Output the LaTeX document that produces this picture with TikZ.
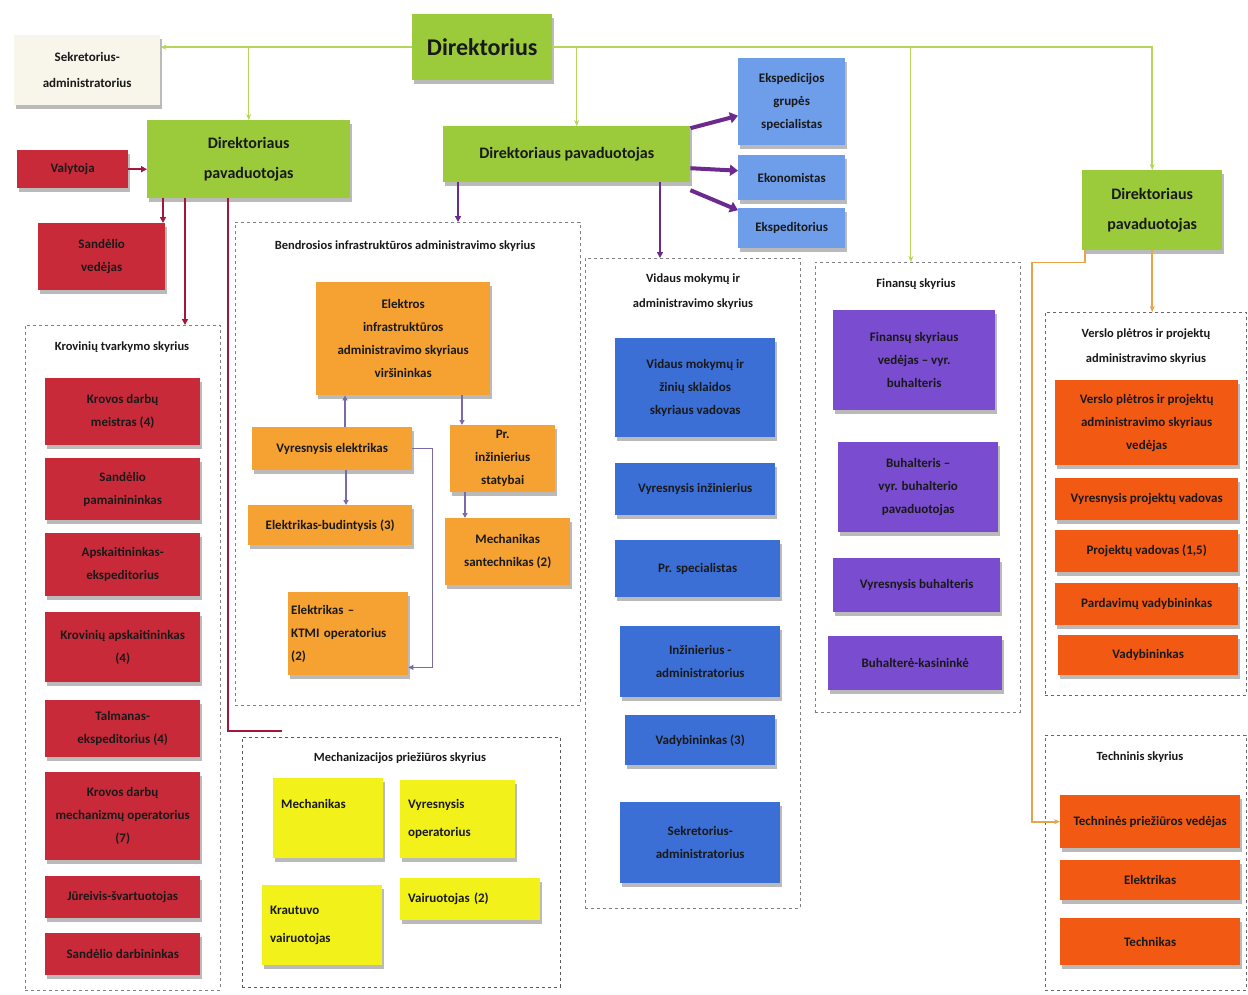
\documentclass[tikz,border=0pt]{standalone}
\usepackage{fontspec}
\setmainfont{Carlito}
\usetikzlibrary{shadows,arrows.meta,calc}
\definecolor{cgreen}{HTML}{9BCB3B}
\definecolor{cgline}{HTML}{B5D65A}
\definecolor{cred}{HTML}{C92A3A}
\definecolor{crline}{HTML}{A3183A}
\definecolor{corange}{HTML}{F6A232}
\definecolor{cblue}{HTML}{3B6FD6}
\definecolor{clblue}{HTML}{6E9EEA}
\definecolor{cpurple}{HTML}{7A4CCF}
\definecolor{cpline}{HTML}{6A2A8E}
\definecolor{cplthin}{HTML}{7A6AA8}
\definecolor{cxor}{HTML}{F25A14}
\definecolor{coline}{HTML}{E6A54A}
\definecolor{cyellow}{HTML}{F2F21A}
\definecolor{ccream}{HTML}{F8F6EA}
\begin{document}
\begin{tikzpicture}[x=1pt,y=-1pt,
  box/.style={anchor=north west, align=center, inner sep=2pt, font=\bfseries\fontsize{13}{23}\selectfont, text=black!90,
    drop shadow={shadow xshift=2pt, shadow yshift=-4pt, fill=black!45, opacity=0.6}},
  gbox/.style={box, fill=cgreen, font=\bfseries\fontsize{16}{30}\selectfont},
  rbox/.style={box, fill=cred},
  obox/.style={box, fill=corange},
  bbox/.style={box, fill=cblue},
  lbbox/.style={box, fill=clblue},
  pbox/.style={box, fill=cpurple},
  xbox/.style={box, fill=cxor},
  ybox/.style={box, fill=cyellow, align=left, inner xsep=8pt, font=\bfseries\fontsize{13}{28}\selectfont},
  grp/.style={anchor=north west, draw=black!50, dashed, dash pattern=on 3pt off 3pt, line width=0.9pt, fill=white, inner sep=0pt},
  gtitle/.style={font=\bfseries\fontsize{12.5}{25}\selectfont, align=center, text=black!90},
  gln/.style={draw=cgline, line width=1.6pt, -{Stealth[length=6pt,width=5pt]}},
  rln/.style={draw=crline, line width=2.4pt, -{Triangle[length=6pt,width=6pt]}},
  pln/.style={draw=cpline, line width=2pt, -{Triangle[length=6pt,width=6pt]}},
  pthick/.style={draw=cpline, line width=4pt, -{Triangle[length=8pt,width=11pt]}},
  plt/.style={draw=cplthin, line width=1.2pt},
  oln/.style={draw=coline, line width=1.8pt, -{Stealth[length=6pt,width=5pt]}}
]
\useasboundingbox (0,0) rectangle (1248,994);
\fill[white] (0,0) rectangle (1248,994);

% ---------- groups (dashed) ----------
\node[grp, minimum width=195pt, minimum height=665pt] (gK) at (25,325) {};
\node[grp, minimum width=345pt, minimum height=483pt] (gI) at (235,222) {};
\node[grp, minimum width=215pt, minimum height=650pt] (gV) at (585,258) {};
\node[grp, minimum width=205pt, minimum height=450pt] (gF) at (815,262) {};
\node[grp, draw=black!60, minimum width=201pt, minimum height=383pt] (gP) at (1045,312) {};
\node[grp, draw=black!60, minimum width=201pt, minimum height=255pt] (gT) at (1045,735) {};
\node[grp, draw=black!65, minimum width=318pt, minimum height=250pt] (gM) at (242,737) {};

\node[gtitle] (gKt) at (122,347) {Krovinių tvarkymo skyrius};
\node[gtitle] (gIt) at (405,246) {Bendrosios infrastruktūros administravimo skyrius};
\node[gtitle] (gVt) at (693,292) {Vidaus mokymų ir\\administravimo skyrius};
\node[gtitle] (gFt) at (916,284) {Finansų skyrius};
\node[gtitle] (gPt) at (1146,347) {Verslo plėtros ir projektų\\administravimo skyrius};
\node[gtitle] (gTt) at (1140,757) {Techninis skyrius};
\node[gtitle] (gMt) at (400,758) {Mechanizacijos priežiūros skyrius};

% ---------- top level ----------
\node[gbox, minimum width=140pt, minimum height=66pt, font=\bfseries\fontsize{24}{28}\selectfont] (dir) at (412,14) {Direktorius};
\node[box, fill=ccream, minimum width=146pt, minimum height=70pt, font=\bfseries\fontsize{13}{26}\selectfont] (sek) at (14,35) {Sekretorius-\\administratorius};
\node[gbox, minimum width=203pt, minimum height=78pt] (dpL) at (147,120) {Direktoriaus\\pavaduotojas};
\node[gbox, minimum width=247pt, minimum height=56pt] (dpM) at (443,126) {Direktoriaus pavaduotojas};
\node[gbox, minimum width=140pt, minimum height=80pt] (dpR) at (1082,170) {Direktoriaus\\pavaduotojas};

\node[lbbox, minimum width=107pt, minimum height=87pt] (lb1) at (738,58) {Ekspedicijos\\grupės\\specialistas};
\node[lbbox, minimum width=107pt, minimum height=45pt] (lb2) at (738,155) {Ekonomistas};
\node[lbbox, minimum width=107pt, minimum height=40pt] (lb3) at (738,208) {Ekspeditorius};

\node[rbox, minimum width=111pt, minimum height=38pt] (val) at (17,150) {Valytoja};
\node[rbox, minimum width=127pt, minimum height=67pt] (sand) at (38,223) {Sandėlio\\vedėjas};

% ---------- Krovinių tvarkymo skyrius ----------
\node[rbox, minimum width=155pt, minimum height=67pt] (k1) at (45,378) {Krovos darbų\\meistras (4)};
\node[rbox, minimum width=155pt, minimum height=62pt] (k2) at (45,458) {Sandėlio\\pamainininkas};
\node[rbox, minimum width=155pt, minimum height=63pt] (k3) at (45,533) {Apskaitininkas-\\ekspeditorius};
\node[rbox, minimum width=155pt, minimum height=70pt] (k4) at (45,612) {Krovinių apskaitininkas\\(4)};
\node[rbox, minimum width=155pt, minimum height=57pt] (k5) at (45,700) {Talmanas-\\ekspeditorius (4)};
\node[rbox, minimum width=155pt, minimum height=88pt] (k6) at (45,772) {Krovos darbų\\mechanizmų operatorius\\(7)};
\node[rbox, minimum width=155pt, minimum height=42pt] (k7) at (45,876) {Jūreivis-švartuotojas};
\node[rbox, minimum width=155pt, minimum height=42pt] (k8) at (45,933) {Sandėlio darbininkas};

% ---------- Bendrosios infrastruktūros ----------
\node[obox, minimum width=174pt, minimum height=113pt] (o1) at (316,282) {Elektros\\infrastruktūros\\administravimo skyriaus\\viršininkas};
\node[obox, minimum width=160pt, minimum height=43pt] (o2) at (252,427) {Vyresnysis elektrikas};
\node[obox, minimum width=105pt, minimum height=67pt] (o3) at (450,425) {Pr.\\inžinierius\\statybai};
\node[obox, minimum width=164pt, minimum height=40pt] (o4) at (248,505) {Elektrikas-budintysis (3)};
\node[obox, minimum width=125pt, minimum height=67pt] (o5) at (445,518) {Mechanikas\\santechnikas (2)};
\node[obox, minimum width=120pt, minimum height=83pt, align=left, text width=114pt] (o6) at (288,592) {Elektrikas –\\KTMI operatorius\\(2)};

% ---------- Vidaus mokymų ----------
\node[bbox, minimum width=160pt, minimum height=99pt] (b1) at (615,338) {Vidaus mokymų ir\\žinių sklaidos\\skyriaus vadovas};
\node[bbox, minimum width=160pt, minimum height=52pt] (b2) at (615,463) {Vyresnysis inžinierius};
\node[bbox, minimum width=165pt, minimum height=57pt] (b3) at (615,540) {Pr. specialistas};
\node[bbox, minimum width=160pt, minimum height=71pt] (b4) at (620,626) {Inžinierius -\\administratorius};
\node[bbox, minimum width=150pt, minimum height=50pt] (b5) at (625,715) {Vadybininkas (3)};
\node[bbox, minimum width=160pt, minimum height=81pt] (b6) at (620,802) {Sekretorius-\\administratorius};

% ---------- Finansų skyrius ----------
\node[pbox, minimum width=162pt, minimum height=100pt] (p1) at (833,310) {Finansų skyriaus\\vedėjas – vyr.\\buhalteris};
\node[pbox, minimum width=160pt, minimum height=90pt] (p2) at (838,442) {Buhalteris –\\vyr. buhalterio\\pavaduotojas};
\node[pbox, minimum width=167pt, minimum height=54pt] (p3) at (833,558) {Vyresnysis buhalteris};
\node[pbox, minimum width=174pt, minimum height=54pt] (p4) at (828,636) {Buhalterė-kasininkė};

% ---------- Verslo plėtros ----------
\node[xbox, minimum width=183pt, minimum height=85pt] (x1) at (1055,380) {Verslo plėtros ir projektų\\administravimo skyriaus\\vedėjas};
\node[xbox, minimum width=183pt, minimum height=42pt] (x2) at (1055,478) {Vyresnysis projektų vadovas};
\node[xbox, minimum width=183pt, minimum height=42pt] (x3) at (1055,530) {Projektų vadovas (1,5)};
\node[xbox, minimum width=183pt, minimum height=42pt] (x4) at (1055,583) {Pardavimų vadybininkas};
\node[xbox, minimum width=180pt, minimum height=40pt] (x5) at (1058,635) {Vadybininkas};

% ---------- Techninis skyrius ----------
\node[xbox, minimum width=180pt, minimum height=53pt] (t1) at (1060,795) {Techninės priežiūros vedėjas};
\node[xbox, minimum width=180pt, minimum height=40pt] (t2) at (1060,860) {Elektrikas};
\node[xbox, minimum width=180pt, minimum height=47pt] (t3) at (1060,918) {Technikas};

% ---------- Mechanizacijos ----------
\node[ybox, minimum width=110pt, minimum height=80pt, text width=94pt] (y1) at (273,778) {Mechanikas\\\mbox{}};
\node[ybox, minimum width=115pt, minimum height=78pt, text width=99pt] (y2) at (400,780) {Vyresnysis\\operatorius};
\node[ybox, minimum width=120pt, minimum height=80pt, text width=104pt] (y3) at (262,885) {Krautuvo\\vairuotojas};
\node[ybox, minimum width=140pt, minimum height=42pt, text width=124pt] (y4) at (400,878) {Vairuotojas (2)};

% ---------- connectors ----------
% green
\draw[gln] (dir.east) -| (dpR.north);
\draw[gln] (dir.west) -- (dir.west -| sek.east);
\draw[gln, line width=1pt] (dpL.north |- dir.west) -- (dpL.north);
\coordinate (cM) at ([xshift=10pt]dpM.north);
\draw[gln, line width=1pt] (cM |- dir.east) -- (cM);
\coordinate (cF) at ([xshift=-7pt]gF.north);
\draw[gln, line width=1pt] (cF |- dir.east) -- (cF);

% red
\draw[rln] (val.east) -- (val.east -| dpL.west);
\coordinate (c1) at ([xshift=16pt]dpL.south west);
\draw[rln] (c1) -- (c1 |- sand.north);
\coordinate (c2) at ([xshift=38pt]dpL.south west);
\draw[rln] (c2) -- (c2 |- gK.north);
\coordinate (c3) at ([xshift=81pt]dpL.south west);
\coordinate (c3b) at ([xshift=40pt, yshift=6pt]gM.north west);
\draw[rln, -] (c3) -- (c3 |- c3b) -- (c3b);

% purple from middle deputy
\coordinate (c4) at ([xshift=15pt]dpM.south west);
\draw[pln] (c4) -- (c4 |- gI.north);
\coordinate (c5) at ([xshift=217pt]dpM.south west);
\draw[pln] (c5) -- (c5 |- gV.north);
\draw[pthick] ([yshift=26pt]dpM.east) -- ([yshift=-14pt]lb1.west);
\draw[pthick] ([yshift=-14pt]dpM.east) -- ([yshift=7pt]lb2.west);
\draw[pthick] ([yshift=-36pt]dpM.east) -- ([yshift=18pt]lb3.west);

% inside infrastructure group
\coordinate (c6) at ([xshift=29pt]o1.south west);
\draw[plt, {Triangle[length=5pt,width=5pt]}-] (c6) -- (c6 |- o2.north);
\coordinate (c7) at ([xshift=146pt]o1.south west);
\draw[plt, -{Triangle[length=5pt,width=5pt]}] (c7) -- (c7 |- o3.north);
\coordinate (c8) at ([xshift=94pt]o2.south west);
\draw[plt, -{Triangle[length=5pt,width=5pt]}] (c8) -- (c8 |- o4.north);
\coordinate (c8b) at ([xshift=15pt]o3.south west);
\draw[plt, -{Triangle[length=5pt,width=5pt]}] (c8b) -- (c8b |- o5.north);
\coordinate (c9) at ([xshift=20pt]o2.east);
\draw[plt, -{Triangle[length=5pt,width=5pt]}] (o2.east) -- (c9) |- ([yshift=8pt]o6.south east);

% orange from right deputy
\draw[oln] (dpR.south) -- (dpR.south |- gP.north);
\coordinate (c10) at ([xshift=-50pt, yshift=-12pt]dpR.south west);
\draw[oln] ([xshift=3pt]dpR.south west) |- (c10) |- (t1.west);
\end{tikzpicture}
\end{document}
